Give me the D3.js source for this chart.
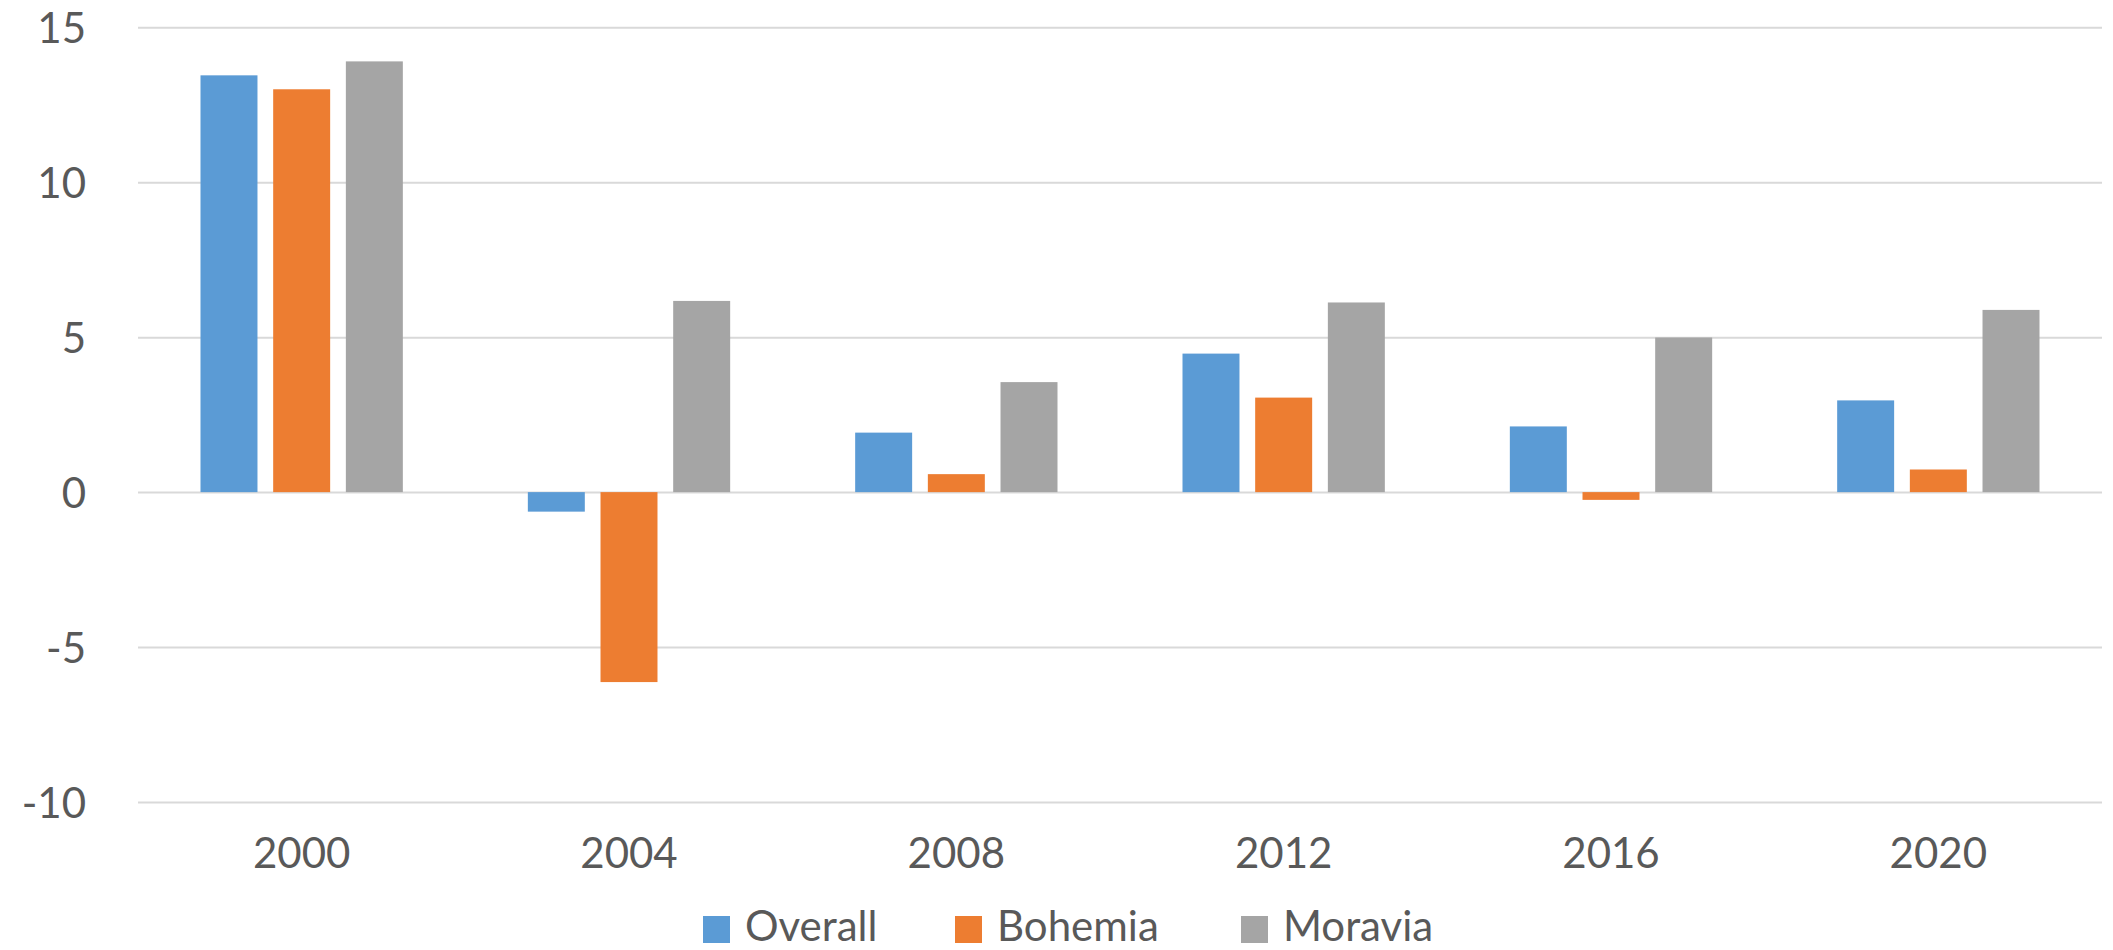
<!DOCTYPE html>
<html>
<head>
<meta charset="utf-8">
<script src="https://cdn.jsdelivr.net/npm/d3@7"></script>
<style>
  body { margin: 0; background: #fff; }
  svg text { font-family: Lato, "Open Sans", sans-serif; fill: #595959; }
</style>
</head>
<body>
<svg id="chart" width="2113" height="950"></svg>
<script>
// data
const years = ['2000', '2004', '2008', '2012', '2016', '2020'];
const series = ['Overall', 'Bohemia', 'Moravia'];
const overall = [13.45, -0.63, 1.92, 4.47, 2.12, 2.96];
const bohemia = [13.0, -6.13, 0.58, 3.05, -0.25, 0.73];
const moravia = [13.9, 6.17, 3.55, 6.12, 4.99, 5.88];
const y_ticks = [-10, -5, 0, 5, 10, 15];
const colors = ['#5b9bd5', '#ed7d31', '#a5a5a5'];

const values = [overall, bohemia, moravia];

let svg = d3.select('#chart');

let plot_left = 138, plot_right = 2102, plot_top = 27.3, plot_bottom = 802;

let x0 = d3.scaleBand().domain(years).range([plot_left, plot_right]);
let x1 = d3.scaleBand().domain(series)
  .range([0, x0.bandwidth()])
  .paddingInner(0.216)
  .paddingOuter(0.86);
let y = d3.scaleLinear().domain([-10, 15]).range([plot_bottom, plot_top]);

/*
 * Grid lines and value labels.
 */
let y_axis = svg.append('g')
  .attr('transform', 'translate(' + plot_left + ',0)')
  .call(d3.axisLeft(y)
    .tickValues(y_ticks)
    .tickFormat((d) => String(d))	// plain hyphen, as in the original
    .tickSize(-(plot_right - plot_left))
    .tickPadding(52));
y_axis.select('.domain').remove();
y_axis.selectAll('line').style('stroke', '#d9d9d9').style('stroke-width', 2);
y_axis.selectAll('text')
  .style('font-size', '42px')
  .attr('dy', '0.36em');

/*
 * Bars.
 */
for (let s = 0; s < series.length; s++) {
  svg.append('g').selectAll('rect')
    .data(years)
    .join('rect')
    .attr('x', (d) => x0(d) + x1(series[s]))
    .attr('width', x1.bandwidth())
    .attr('y', (d, i) => y(Math.max(0, values[s][i])))
    .attr('height', (d, i) => Math.abs(y(values[s][i]) - y(0)))
    .style('fill', colors[s]);
}

/*
 * Category labels.
 */
let x_axis = svg.append('g')
  .attr('transform', 'translate(0,' + plot_bottom + ')')
  .call(d3.axisBottom(x0).tickSize(0).tickPadding(36));
x_axis.select('.domain').remove();
x_axis.selectAll('text').style('font-size', '42px');

/*
 * Legend.
 */
let legend_x = [703, 955, 1241];
let legend = svg.append('g');
for (let s = 0; s < series.length; s++) {
  legend.append('rect')
    .attr('x', legend_x[s])
    .attr('y', 916)
    .attr('width', 27)
    .attr('height', 27)
    .style('fill', colors[s]);
  legend.append('text')
    .attr('x', legend_x[s] + 42)
    .attr('y', 941)
    .style('font-size', '42px')
    .text(series[s]);
}
</script>
</body>
</html>
